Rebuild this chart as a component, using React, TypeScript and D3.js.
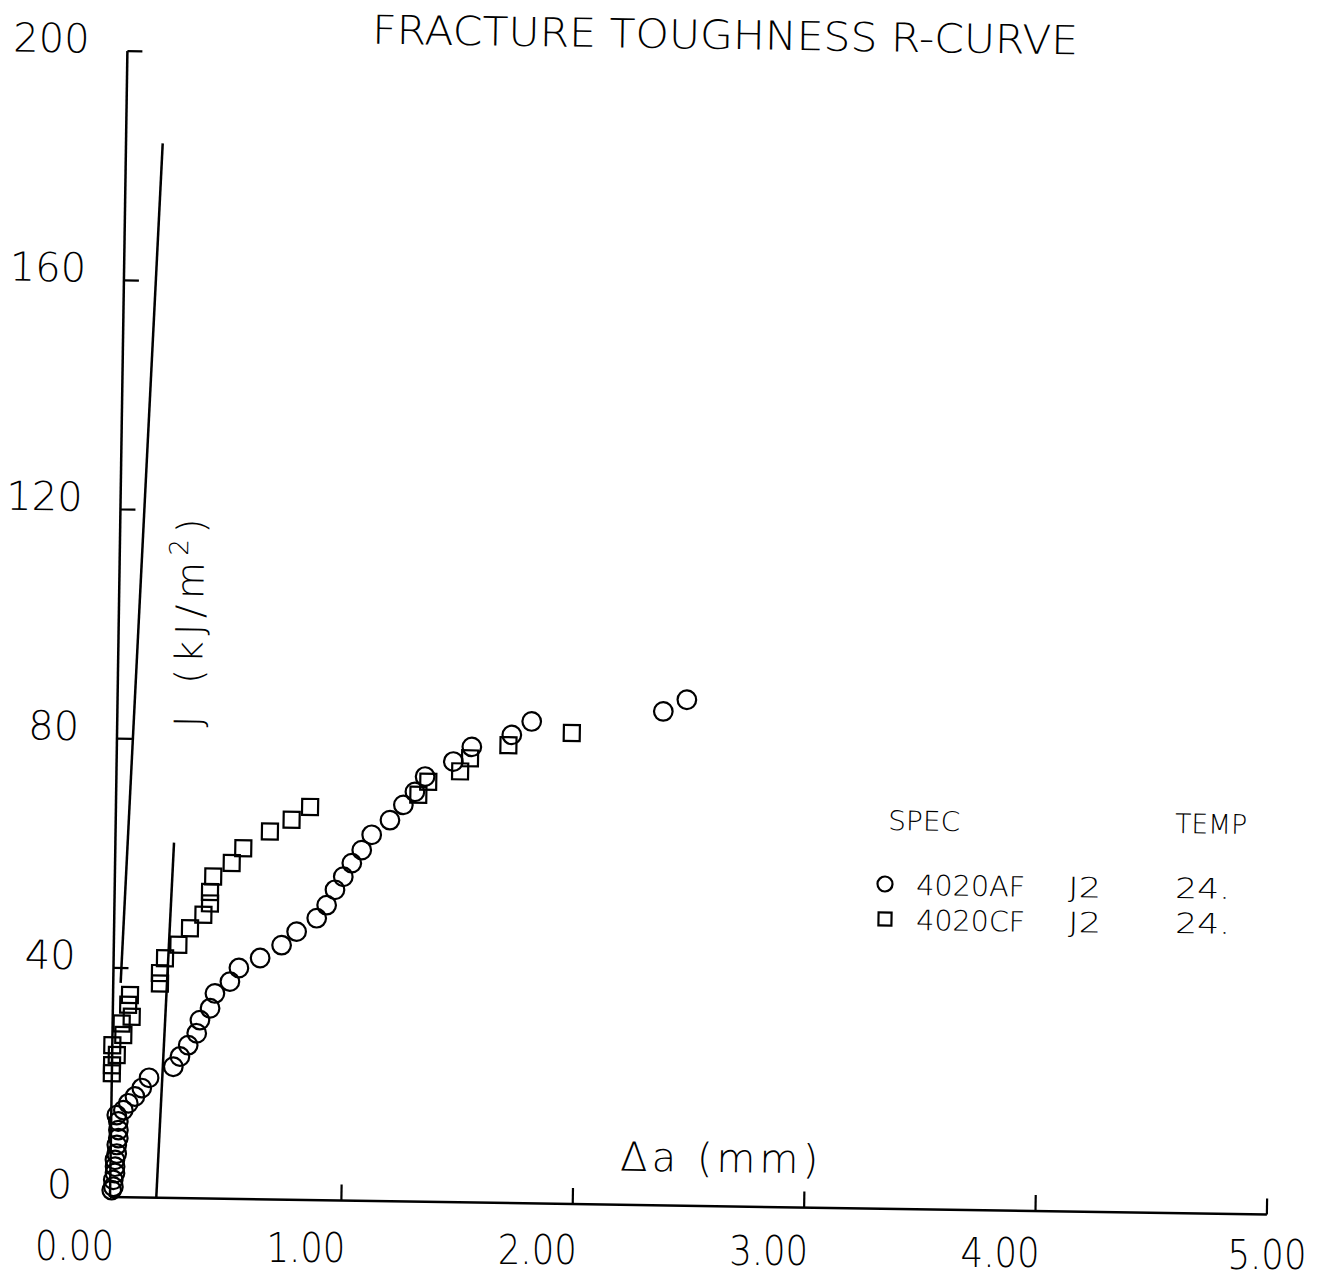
import React from "react";
import * as d3 from "d3";

// ---- data ----
const xTicks = [0, 1, 2, 3, 4, 5];
const xTickLabels = ["0.00", "1.00", "2.00", "3.00", "4.00", "5.00"];
const yTicks = [0, 40, 80, 120, 160, 200];
const yTickLabels = ["0", "40", "80", "120", "160", "200"];

// 4020AF (circles)
const afDa = [0.007, 0.014, 0.013, 0.020, 0.020, 0.019, 0.026, 0.026, 0.032, 0.032, 0.031, 0.024, 0.052, 0.073, 0.101, 0.130, 0.161, 0.265, 0.293, 0.328, 0.364, 0.377, 0.420, 0.440, 0.504, 0.542, 0.633, 0.725, 0.789, 0.875, 0.917, 0.952, 0.987, 1.023, 1.065, 1.107, 1.185, 1.242, 1.291, 1.334, 1.455, 1.534, 1.706, 1.791, 2.359, 2.460];
const afJ = [1.2, 1.8, 3.0, 4.2, 5.3, 6.5, 7.6, 9.1, 10.3, 11.7, 13.2, 14.3, 15.2, 16.4, 17.6, 19.1, 20.9, 22.9, 24.7, 26.7, 28.8, 31.1, 33.2, 35.8, 37.9, 40.3, 42.1, 44.4, 46.8, 49.2, 51.5, 54.2, 56.5, 58.9, 61.2, 63.9, 66.5, 69.2, 71.5, 74.2, 76.9, 79.5, 81.7, 84.1, 86.2, 88.3];

// 4020CF (squares)
const cfDa = [0.0, 0.0, 0.0, 0.020, 0.047, 0.039, 0.082, 0.066, 0.073, 0.202, 0.201, 0.222, 0.279, 0.328, 0.385, 0.413, 0.412, 0.425, 0.504, 0.553, 0.667, 0.760, 0.839, 1.306, 1.348, 1.485, 1.527, 1.692, 1.965];
const cfJ = [21.6, 23.0, 26.5, 24.8, 28.3, 30.3, 31.5, 33.6, 35.3, 37.4, 39.2, 41.8, 44.2, 47.1, 49.5, 51.5, 53.5, 56.2, 58.6, 61.2, 64.2, 66.3, 68.6, 71.0, 73.3, 75.2, 77.5, 79.9, 82.2];

// blunting line and 0.2 mm offset line
const bluntDa = [0.032, 0.1586];
const bluntJ = [37.4, 184];
const offsetDa = [0.2, 0.2534];
const offsetJ = [0, 62];

const legendSpecs = ["4020AF", "4020CF"];
const legendIds = ["J2", "J2"];
const legendTemps = ["24.", "24."];

// ---- layout ----
const W = 1317;
const H = 1277;
const OX = 110;
const OY = 1197;
const PW = 1157;
const PH = 1146;
const ANG = 0.87; // scan tilt in degrees
const th = (ANG * Math.PI) / 180;

// convert picture coords to the unrotated frame
function inv(px: number, py: number): [number, number] {
  const dx = px - OX;
  const dy = py - OY;
  return [OX + dx * Math.cos(th) + dy * Math.sin(th), OY - dx * Math.sin(th) + dy * Math.cos(th)];
}

const FONT = "'DejaVu Sans', 'Liberation Sans', Arial, sans-serif";

export default function App() {
  const x = d3.scaleLinear().domain([0, 5]).range([OX, OX + PW]);
  const y = d3.scaleLinear().domain([0, 200]).range([OY, OY - PH]);
  const line = d3
    .line<[number, number]>()
    .x((d) => x(d[0]))
    .y((d) => y(d[1]));

  const af = afDa.map((d, i) => [d, afJ[i]] as [number, number]);
  const cf = cfDa.map((d, i) => [d, cfJ[i]] as [number, number]);
  const blunt = bluntDa.map((d, i) => [d, bluntJ[i]] as [number, number]);
  const offs = offsetDa.map((d, i) => [d, offsetJ[i]] as [number, number]);

  const title = inv(725, 49);
  const xl = inv(719, 1172);
  const yl = inv(203, 620);
  const spec = inv(888, 830);
  const temp = inv(1175, 833);
  const rowY = [895, 930];

  const r = 9.3;
  const s = 16;
  const sw = 2.2;

  // x tick labels are less tilted than the axis in the scan
  const xLabelBase = (v: number) => 1260 + ((x(v) - OX) / PW) * 9;

  return (
    <svg width={W} height={H} style={{ position: "absolute", left: 0, top: 0 }} fontFamily={FONT} fontWeight={200}>
      <rect x={0} y={0} width={W} height={H} fill="#fff" />
      {xTicks.map((v, i) => (
        <text
          key={"xl" + v}
          x={i === xTicks.length - 1 ? x(v) : x(v) + 4}
          y={xLabelBase(v)}
          textAnchor={i === xTicks.length - 1 ? "middle" : "end"}
          fontSize={40}
          textLength={79}
          lengthAdjust="spacingAndGlyphs"
          fill="#000"
        >
          {xTickLabels[i]}
        </text>
      ))}
      <g transform={`rotate(${ANG} ${OX} ${OY})`}>
        {/* title */}
        <text x={title[0]} y={title[1]} textAnchor="middle" fontSize={40} textLength={706} lengthAdjust="spacingAndGlyphs" fill="#000">
          FRACTURE TOUGHNESS R-CURVE
        </text>

        {/* axes */}
        <line x1={x(0)} y1={y(0)} x2={x(0)} y2={y(200)} stroke="#000" strokeWidth={2.5} />
        <line x1={x(0)} y1={y(0)} x2={x(5)} y2={y(0)} stroke="#000" strokeWidth={2.5} />
        {yTicks.slice(1).map((v) => (
          <line key={"yt" + v} x1={x(0)} y1={y(v)} x2={x(0) + 15} y2={y(v)} stroke="#000" strokeWidth={2.2} />
        ))}
        {xTicks.slice(1).map((v) => (
          <line key={"xt" + v} x1={x(v)} y1={y(0)} x2={x(v)} y2={y(0) - 16} stroke="#000" strokeWidth={2.2} />
        ))}
        {yTicks.map((v, i) => (
          <text key={"yl" + v} x={x(0) - 38} y={y(v) + 2} textAnchor="end" fontSize={40} fill="#000">
            {yTickLabels[i]}
          </text>
        ))}

        {/* axis labels */}
        <text x={xl[0]} y={xl[1]} textAnchor="middle" fontSize={40} fill="#000" textLength={198} lengthAdjust="spacing">
          Δa (mm)
        </text>
        <text transform={`translate(${yl[0]},${yl[1]}) rotate(-90)`} textAnchor="middle" fontSize={38} fill="#000" letterSpacing={6} wordSpacing={8}>
          J (kJ/m<tspan fontSize={26} dy={-16}>2</tspan>
          <tspan dy={16}>)</tspan>
        </text>

        {/* fitted lines */}
        <path d={line(blunt) || ""} fill="none" stroke="#000" strokeWidth={2.5} />
        <path d={line(offs) || ""} fill="none" stroke="#000" strokeWidth={2.5} />

        {/* data */}
        {af.map((d, i) => (
          <circle key={"c" + i} cx={x(d[0])} cy={y(d[1])} r={r} fill="none" stroke="#000" strokeWidth={sw} />
        ))}
        {cf.map((d, i) => (
          <rect key={"s" + i} x={x(d[0]) - s / 2} y={y(d[1]) - s / 2} width={s} height={s} fill="none" stroke="#000" strokeWidth={sw} />
        ))}

        {/* legend */}
        <text x={spec[0]} y={spec[1]} fontSize={27} fill="#000" textLength={72} lengthAdjust="spacingAndGlyphs">SPEC</text>
        <text x={temp[0]} y={temp[1]} fontSize={27} fill="#000" textLength={72} lengthAdjust="spacingAndGlyphs">TEMP</text>
        {legendSpecs.map((name, i) => {
          const m = inv(885, rowY[i] - 11);
          const t1 = inv(916, rowY[i]);
          const t2 = inv(1068, rowY[i] + 2);
          const t3 = inv(1175, rowY[i] + 3);
          return (
            <g key={"lg" + i}>
              {i === 0 ? (
                <circle cx={m[0]} cy={m[1]} r={7.5} fill="none" stroke="#000" strokeWidth={2.2} />
              ) : (
                <rect x={m[0] - 6.5} y={m[1] - 6.5} width={13} height={13} fill="none" stroke="#000" strokeWidth={2.2} />
              )}
              <text x={t1[0]} y={t1[1]} fontSize={28} fill="#000" textLength={109} lengthAdjust="spacingAndGlyphs">{name}</text>
              <text x={t2[0]} y={t2[1]} fontSize={28} fill="#000" textLength={33} lengthAdjust="spacingAndGlyphs">{legendIds[i]}</text>
              <text x={t3[0]} y={t3[1]} fontSize={28} fill="#000" textLength={55} lengthAdjust="spacingAndGlyphs">{legendTemps[i]}</text>
            </g>
          );
        })}
      </g>
    </svg>
  );
}
